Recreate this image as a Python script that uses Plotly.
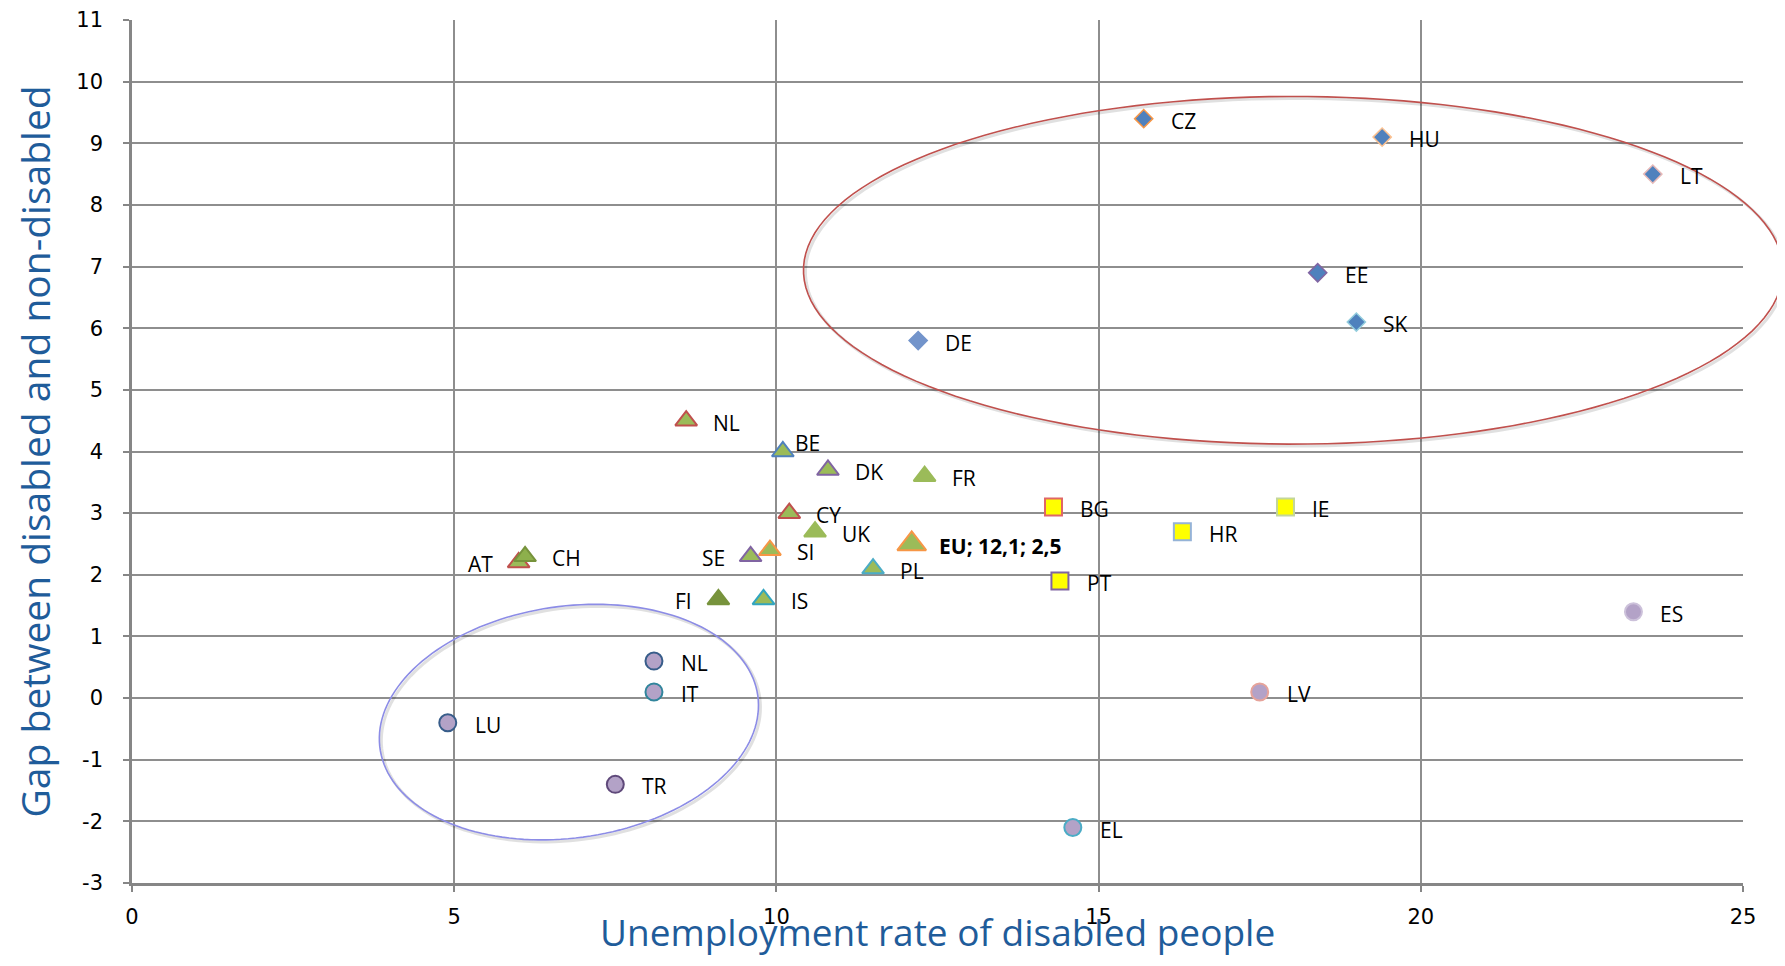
import numpy as np
import plotly.graph_objects as go

# ---------------- data ----------------
dia_c = ["CZ", "HU", "LT", "EE", "SK", "DE"]
dia_x = [15.7, 19.4, 23.6, 18.4, 19.0, 12.2]
dia_y = [9.4, 9.1, 8.5, 6.9, 6.1, 5.8]

tri_c = ["NL", "BE", "DK", "FR", "CY", "UK", "SI", "SE", "AT", "CH", "PL", "FI", "IS"]
tri_x = [8.6, 10.1, 10.8, 12.3, 10.2, 10.6, 9.9, 9.6, 6.0, 6.1, 11.5, 9.1, 9.8]
tri_y = [4.5, 4.0, 3.7, 3.6, 3.0, 2.7, 2.4, 2.3, 2.2, 2.3, 2.1, 1.6, 1.6]

sq_c = ["BG", "HR", "IE", "PT"]
sq_x = [14.3, 16.3, 17.9, 14.4]
sq_y = [3.1, 2.7, 3.1, 1.9]

cir_c = ["NL", "IT", "LU", "TR", "ES", "LV", "EL"]
cir_x = [8.1, 8.1, 4.9, 7.5, 23.3, 17.5, 14.6]
cir_y = [0.6, 0.1, -0.4, -1.4, 1.4, 0.1, -2.1]

eu_c = ["EU; 12,1; 2,5"]
eu_x = [12.1]
eu_y = [2.5]

x_ticks = [0, 5, 10, 15, 20, 25]
x_tick_labels = ["0", "5", "10", "15", "20", "25"]
y_ticks = list(range(-3, 12))
y_tick_labels = ["-3", "-2", "-1", "0", "1", "2", "3", "4", "5", "6", "7", "8", "9", "10", "11"]

# ---------------- styles ----------------
dia_fill = ["#4F81BD", "#4F81BD", "#4F81BD", "#4F81BD", "#4F81BD", "#7394CB"]
dia_line = ["#F79646", "#FAC090", "#E6B9B8", "#8064A2", "#93CDDD", "#7394CB"]
tri_fill = ["#9BBB59"] * 9 + ["#8DB04C", "#9BBB59", "#77933C", "#9BBB59"]
tri_line = ["#C0504D", "#4F81BD", "#8064A2", "#9BBB59", "#C0504D", "#9BBB59",
            "#F79646", "#8064A2", "#C0504D", "#77933C", "#4BACC6", "#77933C", "#31A5C0"]
sq_line = ["#E06666", "#95B3D7", "#C3D69B", "#8064A2"]
cir_line = ["#385D8A", "#31859C", "#385D8A", "#5F497A", "#CCC1DA", "#E6A39A", "#4BACC6"]

# label side: r = right (default), l = left, ur = upper right
label_side = {("tri", "SE"): "l", ("tri", "AT"): "l", ("tri", "FI"): "l", ("tri", "BE"): "ur"}

# page body has an 8px margin: figure is sized to fit the window exactly
PAGE_W, PAGE_H, BODY = 1785, 966, 8
W, H = PAGE_W - 2 * BODY, PAGE_H - 2 * BODY
ML, MR, MT, MB = 124, 34, 12, 75
PW, PH = W - ML - MR, H - MT - MB
XR = (0, 25)
YR = (-3, 11)

fig = go.Figure()

fig.add_trace(go.Scatter(x=dia_x, y=dia_y, mode="markers", cliponaxis=False,
                         marker=dict(symbol="diamond", size=14, color=dia_fill,
                                     line=dict(color=dia_line, width=1.5))))
fig.add_trace(go.Scatter(x=tri_x, y=tri_y, mode="markers", cliponaxis=False,
                         marker=dict(symbol="triangle-up", size=19, color=tri_fill,
                                     line=dict(color=tri_line, width=2))))
fig.add_trace(go.Scatter(x=sq_x, y=sq_y, mode="markers", cliponaxis=False,
                         marker=dict(symbol="square", size=17, color="#FFFF00",
                                     line=dict(color=sq_line, width=2))))
fig.add_trace(go.Scatter(x=cir_x, y=cir_y, mode="markers", cliponaxis=False,
                         marker=dict(symbol="circle", size=17, color="#B3A2C7",
                                     line=dict(color=cir_line, width=2))))
fig.add_trace(go.Scatter(x=eu_x, y=eu_y, mode="markers", cliponaxis=False,
                         marker=dict(symbol="triangle-up", size=25, color="#9BBB59",
                                     line=dict(color="#F79646", width=2))))

annotations = []


def add_labels(group, names, xs, ys, bold=False):
    for n, x, y in zip(names, xs, ys):
        side = label_side.get((group, n), "r")
        if side == "l":
            xa, xs_, ys_ = "right", -24, -2
        elif side == "ur":
            xa, xs_, ys_ = "left", 10, 9
        else:
            xa, xs_, ys_ = "left", 25, -2
        txt = "<b>%s</b>" % n if bold else n
        annotations.append(dict(x=x, y=y, xref="x", yref="y", text=txt, showarrow=False,
                                xanchor=xa, yanchor="middle", xshift=xs_, yshift=ys_,
                                font=dict(family="Open Sans", size=21, color="#000000")))


add_labels("dia", dia_c, dia_x, dia_y)
add_labels("tri", tri_c, tri_x, tri_y)
add_labels("sq", sq_c, sq_x, sq_y)
add_labels("cir", cir_c, cir_x, cir_y)
add_labels("eu", eu_c, eu_x, eu_y, bold=True)

# axis titles
annotations.append(dict(x=0.5, y=0, xref="paper", yref="paper", text="Unemployment rate of disabled people",
                        showarrow=False, xanchor="center", yanchor="bottom", yshift=-MB,
                        borderpad=0,
                        font=dict(family="Open Sans", size=37, color="#1F5C9A")))
annotations.append(dict(x=0, y=0.5, xref="paper", yref="paper", text="Gap between disabled and non-disabled",
                        showarrow=False, xanchor="center", yanchor="middle", xshift=-98, textangle=-90,
                        borderpad=0,
                        font=dict(family="Open Sans", size=39, color="#1F5C9A")))


# ellipses (annotation shapes), defined in data units, drawn in paper coords
def ellipse_path(cx, cy, ax, by, ang_deg, dxp=0.0, dyp=0.0, n=160):
    pxu = PW / (XR[1] - XR[0])
    pyu = PH / (YR[1] - YR[0])
    t = np.linspace(0, 2 * np.pi, n)
    a, b, th = ax * pxu, by * pyu, np.radians(ang_deg)
    dx = a * np.cos(t) * np.cos(th) - b * np.sin(t) * np.sin(th) + dxp
    dy = a * np.cos(t) * np.sin(th) + b * np.sin(t) * np.cos(th) + dyp
    px = (cx - XR[0]) / (XR[1] - XR[0]) + dx / PW
    py = (cy - YR[0]) / (YR[1] - YR[0]) + dy / PH
    pts = ["%.5f,%.5f" % (u, v) for u, v in zip(px, py)]
    return "M" + " L".join(pts) + " Z"


shapes = []
for (cx, cy, ax, by, ang, col) in [(18.02, 6.94, 7.6, 2.82, 0, "#C0504D"),
                                   (6.78, -0.39, 2.96, 1.88, 8, "#8C8CE6")]:
    shapes.append(dict(type="path", xref="paper", yref="paper",
                       path=ellipse_path(cx, cy, ax, by, ang, 2, -2),
                       line=dict(color="rgba(0,0,0,0.12)", width=3), layer="above"))
    shapes.append(dict(type="path", xref="paper", yref="paper",
                       path=ellipse_path(cx, cy, ax, by, ang),
                       line=dict(color=col, width=1.6), layer="above"))

axis_common = dict(showgrid=True, gridcolor="#8E8E8E", gridwidth=1.5, showline=True,
                   linecolor="#868686", linewidth=2.5, ticks="outside", ticklen=6,
                   tickcolor="#868686", tickwidth=1.5, zeroline=False,
                   tickfont=dict(family="DejaVu Sans", size=21, color="#000000"))

fig.update_layout(
    width=W, height=H,
    margin=dict(l=ML, r=MR, t=MT, b=MB, autoexpand=False),
    paper_bgcolor="white", plot_bgcolor="white",
    showlegend=False,
    xaxis=dict(range=list(XR), tickvals=x_ticks, ticktext=x_tick_labels, ticklabelstandoff=7, **axis_common),
    yaxis=dict(range=list(YR), tickvals=y_ticks, ticktext=y_tick_labels, ticklabelstandoff=16, **axis_common),
    annotations=annotations,
    shapes=shapes,
)

fig.write_html("out.html")
